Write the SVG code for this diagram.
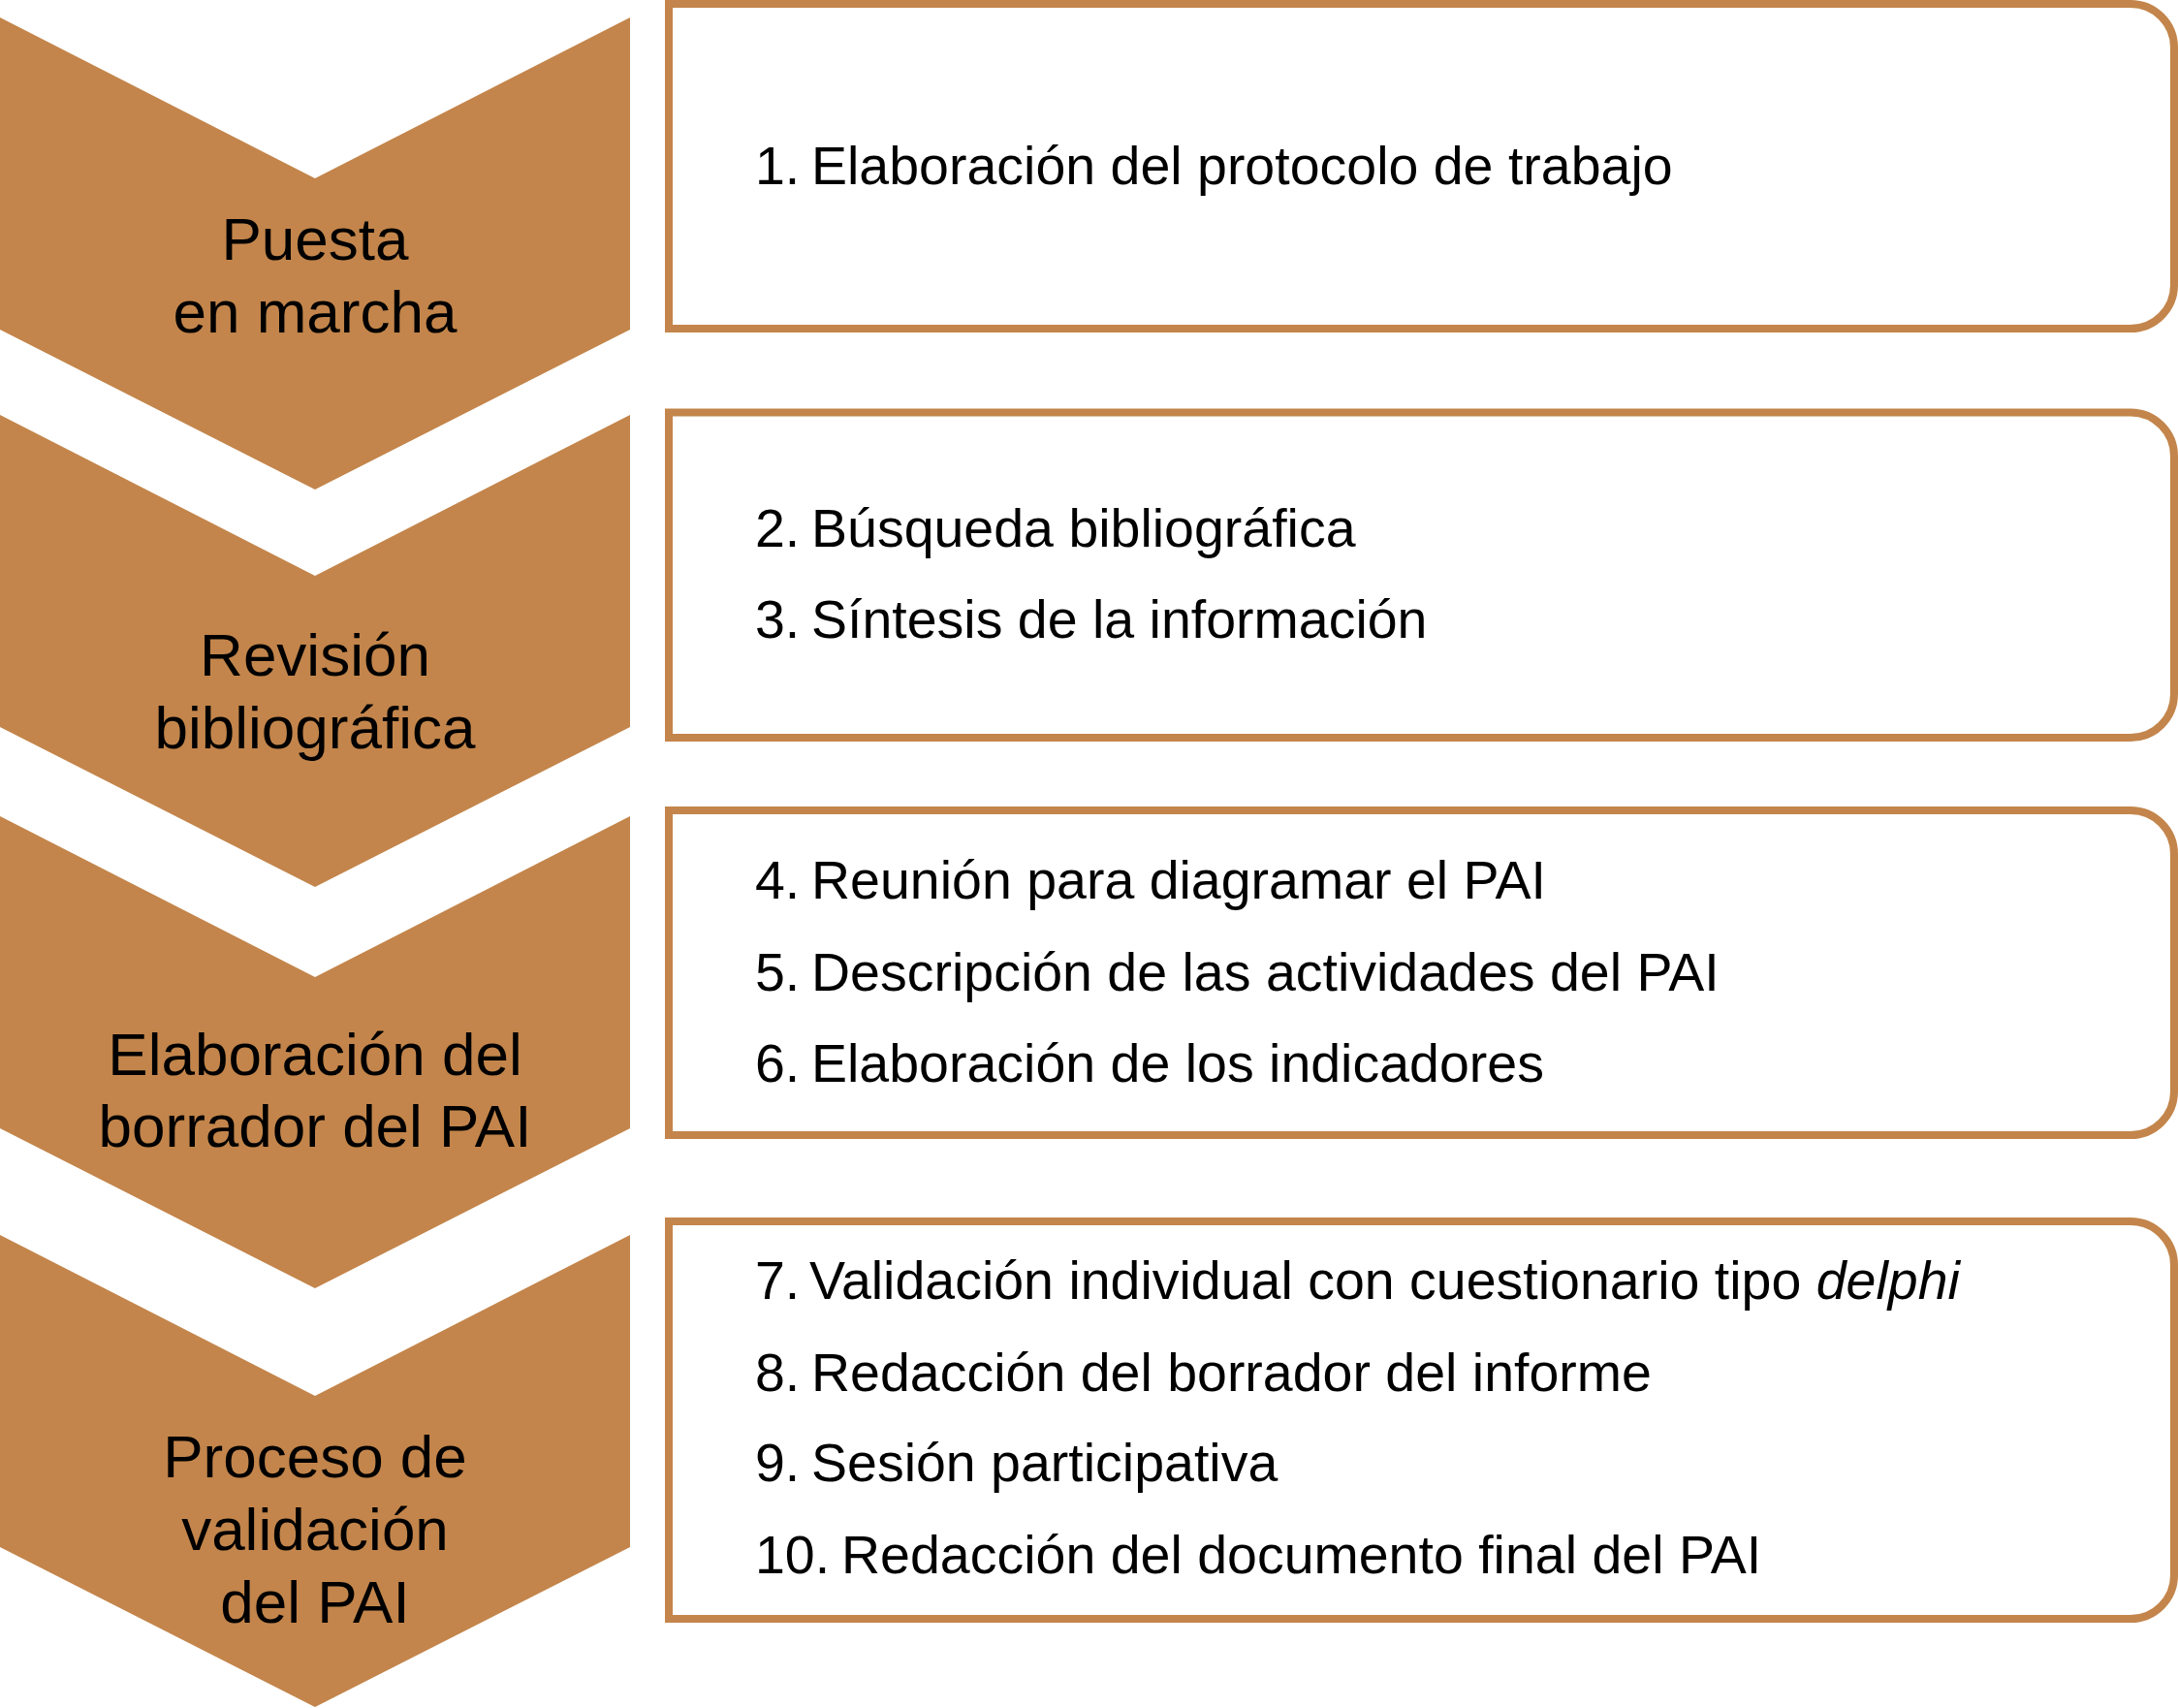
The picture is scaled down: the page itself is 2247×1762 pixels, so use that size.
<svg xmlns="http://www.w3.org/2000/svg" width="2247" height="1762" viewBox="0 0 2247 1762">
<style>
.chev{fill:#C3854B;stroke:none}
.box{fill:#FFFFFF;stroke:#C3854B;stroke-width:8;stroke-linejoin:miter}
.lbl{font-family:"Liberation Sans",Arial,Helvetica,sans-serif;font-size:62px;fill:#000;text-anchor:middle}
.item{font-family:"Liberation Sans",Arial,Helvetica,sans-serif;font-size:55.5px;fill:#000}
</style>
<rect x="0" y="0" width="2247" height="1762" fill="#FFFFFF"/>
<g id="connectors"></g>
<g id="phase1">
<polygon class="chev" points="0,18 325,184 650,18 650,340 325,505 0,340"/>
<text class="lbl" x="325" y="268">Puesta</text>
<text class="lbl" x="325" y="343">en marcha</text>
</g>
<g id="phase2">
<polygon class="chev" points="0,428 325,594 650,428 650,750 325,915 0,750"/>
<text class="lbl" x="325" y="697">Revisión</text>
<text class="lbl" x="325" y="772">bibliográfica</text>
</g>
<g id="phase3">
<polygon class="chev" points="0,842 325,1008 650,842 650,1164 325,1329 0,1164"/>
<text class="lbl" x="325" y="1109">Elaboración del</text>
<text class="lbl" x="325" y="1183">borrador del PAI</text>
</g>
<g id="phase4">
<polygon class="chev" points="0,1274 325,1440 650,1274 650,1596 325,1761 0,1596"/>
<text class="lbl" x="325" y="1524">Proceso de</text>
<text class="lbl" x="325" y="1599">validación</text>
<text class="lbl" x="325" y="1674">del PAI</text>
</g>
<g id="box1">
<path class="box" d="M690,4 H2198 A45,45 0 0 1 2243,49 V294 A45,45 0 0 1 2198,339 H690 Z"/>
<text class="item" y="190"><tspan x="779">1.</tspan><tspan x="837">Elaboración del protocolo de trabajo</tspan></text>
</g>
<g id="box2">
<path class="box" d="M690,425.5 H2198 A45,45 0 0 1 2243,470.5 V716 A45,45 0 0 1 2198,761 H690 Z"/>
<text class="item" y="564"><tspan x="779">2.</tspan><tspan x="837">Búsqueda bibliográfica</tspan></text>
<text class="item" y="658"><tspan x="779">3.</tspan><tspan x="837">Síntesis de la información</tspan></text>
</g>
<g id="box3">
<path class="box" d="M690,836 H2198 A45,45 0 0 1 2243,881 V1126 A45,45 0 0 1 2198,1171 H690 Z"/>
<text class="item" y="927"><tspan x="779">4.</tspan><tspan x="837">Reunión para diagramar el PAI</tspan></text>
<text class="item" y="1022"><tspan x="779">5.</tspan><tspan x="837">Descripción de las actividades del PAI</tspan></text>
<text class="item" y="1116"><tspan x="779">6.</tspan><tspan x="837">Elaboración de los indicadores</tspan></text>
</g>
<g id="box4">
<path class="box" d="M690,1260 H2198 A45,45 0 0 1 2243,1305 V1625 A45,45 0 0 1 2198,1670 H690 Z"/>
<text class="item" y="1340"><tspan x="779">7.</tspan><tspan x="835">Validación individual con cuestionario tipo </tspan><tspan font-style="italic">delphi</tspan></text>
<text class="item" y="1435"><tspan x="779">8.</tspan><tspan x="837">Redacción del borrador del informe</tspan></text>
<text class="item" y="1528"><tspan x="779">9.</tspan><tspan x="837">Sesión participativa</tspan></text>
<text class="item" y="1623"><tspan x="779">10.</tspan><tspan x="868">Redacción del documento final del PAI</tspan></text>
</g>
</svg>
